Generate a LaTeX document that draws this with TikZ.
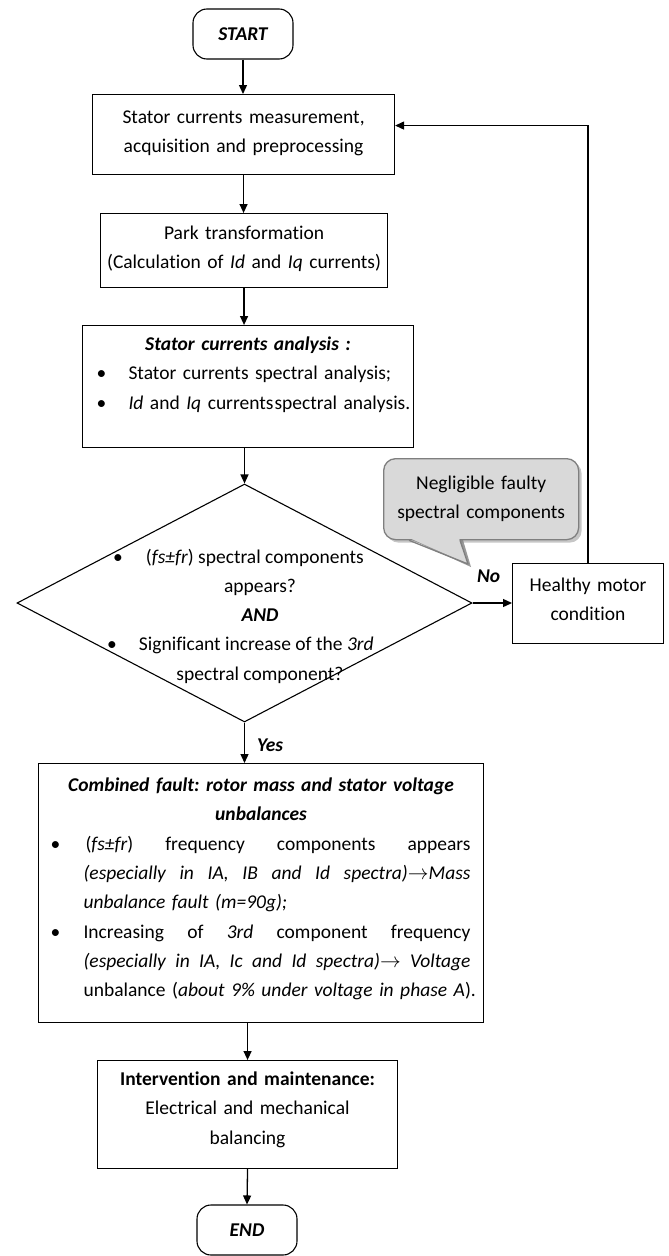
\documentclass[tikz,border=0pt]{standalone}
\usepackage{fontspec}
\setmainfont{Carlito}[Ligatures=NoCommon]
\usetikzlibrary{shapes.geometric,shadows,arrows.meta,calc}
\definecolor{callfill}{HTML}{D9D9D9}
\definecolor{callline}{HTML}{7F7F7F}
\newcommand{\jline}[1]{\hbox to 387pt{#1}}
\frenchspacing
\begin{document}
\begin{tikzpicture}[x=1pt,y=-1pt,
  every node/.style={font=\fontsize{19.5}{29.3}\selectfont, text=black},
  box/.style={draw, line width=1.1pt, anchor=north west, inner sep=0pt, align=center},
  term/.style={draw, line width=1.1pt, rounded corners=14pt, minimum width=100pt,
    minimum height=50pt, inner sep=0pt, font=\fontsize{19.5}{29.3}\selectfont\bfseries\itshape},
  arr/.style={line width=1.3pt, -{Triangle[length=9pt,width=8pt]}},
  lbl/.style={font=\fontsize{19.5}{29.3}\selectfont\bfseries\itshape, inner sep=0pt, anchor=base west},
  callbox/.style={draw=callline, fill=callfill, line width=1.3pt, rounded corners=12pt,
    anchor=north west, inner sep=0pt, align=center,
    drop shadow={opacity=0.45, shadow xshift=3pt, shadow yshift=-3pt}}
]
\useasboundingbox (0,0) rectangle (669,1256);

\node[term] (start) at (243,34) {START};

\node[box, text width=302pt, text height=29pt, text depth=51pt] (b1) at (92,94)
  {Stator currents measurement,\\ acquisition and preprocessing};

\node[box, text width=287pt, text height=26pt, text depth=48pt] (b2) at (100,213)
  {Park transformation\\ (Calculation of \textit{Id} and \textit{Iq} currents)};

\node[box, align=left, text width=331pt, text height=25pt, text depth=97pt] (b3) at (82,325)
  {\makebox[\linewidth]{\bfseries\itshape Stator currents analysis :}\\
   \hspace*{14pt}\makebox[32pt][l]{\textbullet}\mbox{Stator currents spectral analysis;}\\
   \hspace*{14pt}\makebox[32pt][l]{\textbullet}\mbox{\textit{Id} and \textit{Iq} currents\hspace{1pt}spectral analysis.}};

\node[draw, line width=1.1pt, diamond, minimum width=455pt, minimum height=238pt, inner sep=0pt] (dia) at (244.5,603)
  {\raisebox{40pt}[0pt][0pt]{\makebox[0pt][l]{\hspace*{-140.5pt}\parbox[t]{312pt}{\centering
   \makebox[\linewidth][l]{\hspace*{9pt}\makebox[33pt][l]{\textbullet}(\textit{fs±fr}) spectral components}\\
   appears?\\
   \textbf{\textit{AND}}\\
   \makebox[\linewidth][l]{\hspace*{3pt}\makebox[32pt][l]{\textbullet}Significant increase of the \textit{3rd}}\\
   spectral component?}}}};

\node[box, text width=151pt, text height=28pt, text depth=52pt] (hm) at (512,563)
  {Healthy motor\\ condition};

\coordinate (tip) at (468,564);
\fill[black, opacity=0.4] ($(383,537)+(29,3)$) -- ($(tip)+(3,3)$) -- ($(383,537)+(80,3)$) -- cycle;
\node[callbox, text width=195pt, text height=31pt, text depth=50pt] (cb) at (383,458)
  {Negligible faulty\\ spectral components};
\fill[callfill] ($(cb.south west)+(27,-2)$) -- (tip) -- ($(cb.south west)+(76,-2)$) -- cycle;
\draw[callline, line width=1.3pt, line join=round] ($(cb.south west)+(26,0)$) -- (tip) -- ($(cb.south west)+(77,0)$);

\node[box, align=left, text width=445pt, text height=28pt, text depth=231pt] (b5) at (38,763)
  {\makebox[\linewidth]{\bfseries\itshape Combined fault: rotor mass and stator voltage}\\
   \makebox[\linewidth]{\bfseries\itshape unbalances}\\
   \hspace*{12pt}\makebox[33pt][l]{\textbullet}\jline{\hspace{2pt}(\textit{fs±fr}) \hfill frequency \hfill components \hfill appears}\\
   \hspace*{45pt}\jline{\itshape (especially \hfill in \hfill IA, \hfill IB \hfill and \hfill Id \hfill spectra)$\rightarrow$Mass}\\
   \hspace*{45pt}\textit{unbalance fault (m=90g);}\\
   \hspace*{12pt}\makebox[33pt][l]{\textbullet}\jline{Increasing \hfill of \hfill \textit{3rd} \hfill component \hfill frequency}\\
   \hspace*{45pt}\jline{\itshape (especially \hfill in \hfill IA, \hfill Ic \hfill and \hfill Id \hfill spectra)$\rightarrow$ \hfill Voltage}\\
   \hspace*{45pt}unbalance (\textit{about 9\% under voltage in phase A}).};

\node[box, text width=300pt, text height=25pt, text depth=83pt] (b6) at (97,1060)
  {\textbf{Intervention and maintenance:}\\ Electrical and mechanical\\ balancing};

\node[term] (end) at (247,1230) {END};

\draw[arr] (start.south) -- (start.south |- b1.north);
\draw[arr] (b1.south) -- (b1.south |- b2.north);
\draw[arr] (b2.south) -- (b2.south |- b3.north);
\draw[arr] (dia.north |- b3.south) -- (dia.north);
\draw[arr] (dia.south) -- (dia.south |- b5.north);
\draw[arr] (b6.north |- b5.south) -- (b6.north);
\draw[arr] (b6.south) -- (end.north);
\draw[arr] (dia.east) -- (hm.west |- dia.east);
\draw[arr] (hm.north) |- ($(b1.east)+(0,-9)$);

\node[lbl] (no) at (477,582) {No};
\node[lbl] (yes) at (257,751) {Yes};
\end{tikzpicture}
\end{document}
